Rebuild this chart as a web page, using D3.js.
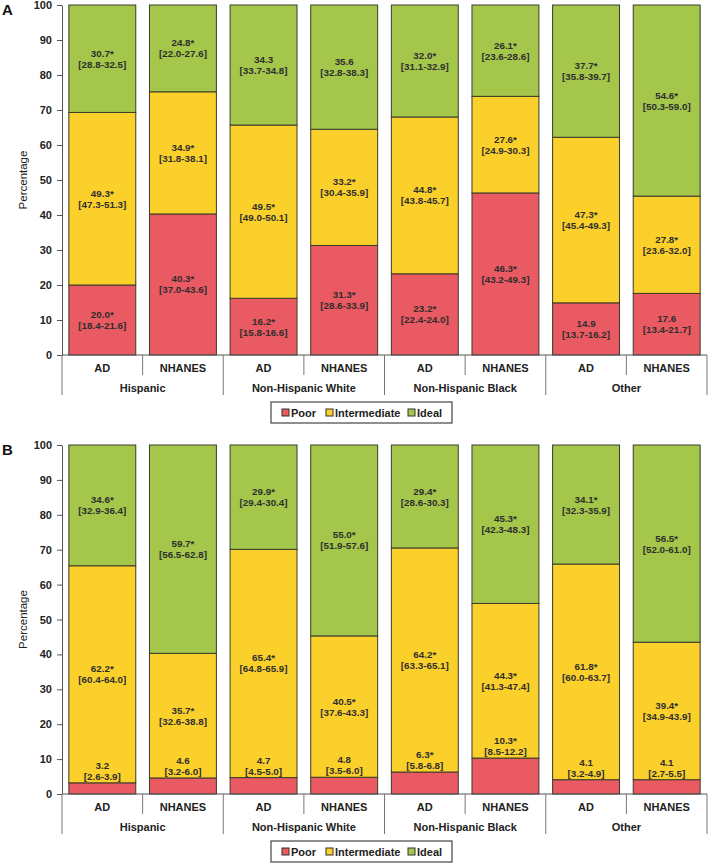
<!DOCTYPE html>
<html><head><meta charset="utf-8">
<script src="https://cdn.jsdelivr.net/npm/d3@7"></script>
<style>body{margin:0;background:#fff;} svg{display:block;font-family:"Liberation Sans",Arial,sans-serif;}</style>
</head><body>
<svg id="c" width="709" height="864"></svg>
<script>
const groups = ["Hispanic", "Non-Hispanic White", "Non-Hispanic Black", "Other"];
const sources = ["AD", "NHANES"];
const levels = ["Poor", "Intermediate", "Ideal"];
const colors = ["#E95A62", "#FCD02B", "#A3C64B"];
const yTicks = [0,10,20,30,40,50,60,70,80,90,100];

// Panel A (order: Hispanic AD, Hispanic NHANES, NHW AD, NHW NHANES, NHB AD, NHB NHANES, Other AD, Other NHANES)
const aPoor  = [20.0, 40.3, 16.2, 31.3, 23.2, 46.3, 14.9, 17.6];
const aInter = [49.3, 34.9, 49.5, 33.2, 44.8, 27.6, 47.3, 27.8];
const aIdeal = [30.7, 24.8, 34.3, 35.6, 32.0, 26.1, 37.7, 54.6];
const aPoorLbl  = ["20.0*|[18.4-21.6]","40.3*|[37.0-43.6]","16.2*|[15.8-16.6]","31.3*|[28.6-33.9]","23.2*|[22.4-24.0]","46.3*|[43.2-49.3]","14.9|[13.7-16.2]","17.6|[13.4-21.7]"];
const aInterLbl = ["49.3*|[47.3-51.3]","34.9*|[31.8-38.1]","49.5*|[49.0-50.1]","33.2*|[30.4-35.9]","44.8*|[43.8-45.7]","27.6*|[24.9-30.3]","47.3*|[45.4-49.3]","27.8*|[23.6-32.0]"];
const aIdealLbl = ["30.7*|[28.8-32.5]","24.8*|[22.0-27.6]","34.3|[33.7-34.8]","35.6|[32.8-38.3]","32.0*|[31.1-32.9]","26.1*|[23.6-28.6]","37.7*|[35.8-39.7]","54.6*|[50.3-59.0]"];

// Panel B
const bPoor  = [3.2, 4.6, 4.7, 4.8, 6.3, 10.3, 4.1, 4.1];
const bInter = [62.2, 35.7, 65.4, 40.5, 64.2, 44.3, 61.8, 39.4];
const bIdeal = [34.6, 59.7, 29.9, 55.0, 29.4, 45.3, 34.1, 56.5];
const bPoorLbl  = ["3.2|[2.6-3.9]","4.6|[3.2-6.0]","4.7|[4.5-5.0]","4.8|[3.5-6.0]","6.3*|[5.8-6.8]","10.3*|[8.5-12.2]","4.1|[3.2-4.9]","4.1|[2.7-5.5]"];
const bInterLbl = ["62.2*|[60.4-64.0]","35.7*|[32.6-38.8]","65.4*|[64.8-65.9]","40.5*|[37.6-43.3]","64.2*|[63.3-65.1]","44.3*|[41.3-47.4]","61.8*|[60.0-63.7]","39.4*|[34.9-43.9]"];
const bIdealLbl = ["34.6*|[32.9-36.4]","59.7*|[56.5-62.8]","29.9*|[29.4-30.4]","55.0*|[51.9-57.6]","29.4*|[28.6-30.3]","45.3*|[42.3-48.3]","34.1*|[32.3-35.9]","56.5*|[52.0-61.0]"];

const svg = d3.select("#c");
const X0 = 62, X1 = 707;
const keys = [];
groups.forEach(g => sources.forEach(s => keys.push(g + "|" + s)));

function panel(letter, top, bottom, poor, inter, ideal, pl, il, dl, poorAbove) {
  const g = svg.append("g");
  const y = d3.scaleLinear().domain([0, 100]).range([bottom, top]).clamp(true);
  const x = d3.scaleBand().domain(keys).range([X0, X1]).paddingInner(0.17).paddingOuter(0.085);
  const rows = keys.map((k, i) => ({k, vals: [poor[i], inter[i], ideal[i]], lbls: [pl[i], il[i], dl[i]]}));
  const stack = d3.stack().keys([0,1,2]).value((d, j) => d.vals[j]);
  const series = stack(rows);

  series.forEach((s, si) => {
    g.append("g").selectAll("rect").data(s).join("rect")
      .attr("x", d => x(d.data.k))
      .attr("width", x.bandwidth())
      .attr("y", d => y(si === 2 ? 100 : d[1]))
      .attr("height", d => y(d[0]) - y(si === 2 ? 100 : d[1]))
      .attr("fill", colors[si])
      .attr("stroke", "#3a3a2a").attr("stroke-width", 1);
  });

  // labels
  series.forEach((s, si) => {
    s.forEach(d => {
      const parts = d.data.lbls[si].split("|");
      const cx = x(d.data.k) + x.bandwidth() / 2;
      let y1, y2;
      if (si === 0 && poorAbove) {
        y2 = y(d[1]) - 3; y1 = y2 - 11;
      } else {
        const cy = (y(d[0]) + y(d[1])) / 2;
        y1 = cy - 2; y2 = cy + 9;
      }
      const t = g.append("text").attr("text-anchor", "middle").attr("font-size", 9.8)
        .attr("font-weight", "bold").attr("fill", "#2e2e2e");
      t.append("tspan").attr("x", cx).attr("y", y1).text(parts[0]);
      t.append("tspan").attr("x", cx).attr("y", y2).text(parts[1]);
    });
  });

  // y axis
  const ax = g.append("g").attr("transform", `translate(${X0},0)`)
    .call(d3.axisLeft(y).tickValues(yTicks).tickSize(5).tickSizeOuter(0).tickPadding(5));
  ax.select(".domain").attr("stroke", "#555");
  ax.selectAll(".tick line").attr("stroke", "#555");
  ax.selectAll("text").attr("font-size", 11).attr("font-weight", "bold").attr("fill", "#222")
    .attr("font-family", "Liberation Sans, Arial, sans-serif");

  // category axis
  g.append("line").attr("x1", X0).attr("x2", X1).attr("y1", bottom).attr("y2", bottom).attr("stroke", "#555");
  const step = x.step();
  for (let k = 0; k <= 8; k++) {
    const xx = X0 + k * step;
    const len = (k % 2 === 0) ? 40 : 20;
    g.append("line").attr("x1", xx).attr("x2", xx).attr("y1", bottom).attr("y2", bottom + len)
      .attr("stroke", "#777").attr("stroke-width", 1);
  }
  keys.forEach(k => {
    g.append("text").attr("x", x(k) + x.bandwidth() / 2).attr("y", bottom + 17)
      .attr("text-anchor", "middle").attr("font-size", 11).attr("font-weight", "bold").attr("fill", "#222")
      .text(k.split("|")[1]);
  });
  groups.forEach((gr, i) => {
    g.append("text").attr("x", X0 + (2 * i + 1) * step).attr("y", bottom + 37)
      .attr("text-anchor", "middle").attr("font-size", 11).attr("font-weight", "bold").attr("fill", "#222")
      .text(gr);
  });

  // y label
  g.append("text").attr("transform", `translate(27,${(top + bottom) / 2}) rotate(-90)`)
    .attr("text-anchor", "middle").attr("font-size", 11.5).attr("fill", "#222").text("Percentage");

  // panel letter
  g.append("text").attr("x", 2).attr("y", top + 10).attr("font-size", 15).attr("font-weight", "bold")
    .attr("fill", "#111").text(letter);

  // legend
  const ly = bottom + 47;
  const lg = g.append("g");
  lg.append("rect").attr("x", 271).attr("y", ly).attr("width", 181).attr("height", 21)
    .attr("fill", "#fff").attr("stroke", "#444").attr("stroke-width", 1.2);
  const lx = [282, 326, 408];
  levels.forEach((lv, i) => {
    lg.append("rect").attr("x", lx[i]).attr("y", ly + 7).attr("width", 7).attr("height", 7)
      .attr("fill", colors[i]).attr("stroke", "#333").attr("stroke-width", 1);
    lg.append("text").attr("x", lx[i] + 9).attr("y", ly + 14.5).attr("font-size", 11)
      .attr("font-weight", "bold").attr("fill", "#222").text(lv);
  });
}

panel("A", 5, 355, aPoor, aInter, aIdeal, aPoorLbl, aInterLbl, aIdealLbl, false);
panel("B", 445, 794, bPoor, bInter, bIdeal, bPoorLbl, bInterLbl, bIdealLbl, true);
</script>
</body></html>
